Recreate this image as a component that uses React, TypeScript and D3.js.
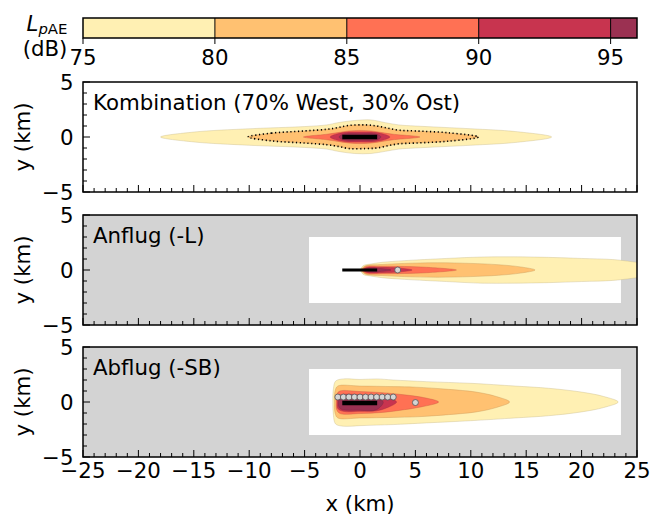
import React from 'react';
import * as d3 from 'd3';

// colour levels (dB)
const levels = [75, 80, 85, 90, 95, 96];
const levelColors = ['#fff0b3', '#ffc171', '#ff7154', '#c8344f', '#9b3152'];
const cbTicks = [75, 80, 85, 90, 95];

const xTicks = [-25, -20, -15, -10, -5, 0, 5, 10, 15, 20, 25];
const yTicks = [-5, 0, 5];

// contour outlines: [x km, upper y km, lower y km]
const kombContours = [
  [[-18, 0, 0], [-15, 0.45, -0.45], [-10, 0.75, -0.75], [-5, 0.95, -0.95], [-3, 1.1, -1.1], [-2, 1.3, -1.3], [-0.5, 1.5, -1.5], [1, 1.55, -1.5], [2.3, 1.3, -1.3], [3.5, 1.1, -1.1], [5, 1.0, -1.0], [10, 0.75, -0.75], [14, 0.5, -0.5], [17.3, 0, 0]],
  [[-10.1, 0, 0], [-8, 0.35, -0.35], [-5, 0.55, -0.55], [-3, 0.7, -0.7], [-2, 0.85, -0.85], [-1, 1.05, -1.05], [0.5, 1.1, -1.05], [1.5, 1.0, -1.0], [2.5, 0.8, -0.8], [3.5, 0.62, -0.62], [5, 0.55, -0.55], [8, 0.38, -0.38], [10.7, 0, 0]],
  [[-5.1, 0, 0], [-3, 0.25, -0.25], [-2, 0.4, -0.4], [-1, 0.55, -0.55], [0, 0.6, -0.6], [1, 0.55, -0.55], [2, 0.4, -0.4], [3, 0.25, -0.25], [5.4, 0, 0]],
  [[-2.7, 0, 0], [-2, 0.3, -0.3], [-1, 0.45, -0.45], [0, 0.45, -0.45], [1, 0.45, -0.45], [2, 0.3, -0.3], [2.7, 0, 0]],
  [[-1.9, 0, 0], [-1.5, 0.25, -0.25], [0, 0.3, -0.3], [1.5, 0.25, -0.25], [1.9, 0, 0]],
];

const anflugContours = [
  [[0.05, 0, 0], [0.3, 0.4, -0.4], [1, 0.55, -0.55], [2, 0.7, -0.7], [4, 0.85, -0.85], [7.8, 1.05, -1.05], [11, 1.18, -1.2], [13.8, 1.2, -1.2], [17, 1.15, -1.15], [20, 1.05, -1.05], [22.8, 0.95, -0.95], [24.6, 0.75, -0.75], [27, 0.4, -0.4], [28.5, 0, 0]],
  [[0.1, 0, 0], [0.5, 0.38, -0.38], [2, 0.5, -0.5], [4, 0.6, -0.6], [7, 0.66, -0.66], [10, 0.6, -0.6], [12.5, 0.48, -0.48], [14.5, 0.28, -0.28], [15.8, 0, 0]],
  [[0.2, 0, 0], [0.5, 0.3, -0.3], [2, 0.34, -0.34], [4, 0.32, -0.32], [6, 0.25, -0.25], [8.7, 0, 0]],
  [[0.3, 0, 0], [0.6, 0.22, -0.22], [2, 0.24, -0.24], [3.5, 0.18, -0.18], [4.7, 0, 0]],
  [[0.4, 0, 0], [0.8, 0.15, -0.15], [1.8, 0.13, -0.13], [2.8, 0, 0]],
];

const abflugContours = [
  [[-2.45, 0, 0], [-2.4, 1.2, -1.2], [-2.2, 1.9, -2.0], [-1.5, 2.1, -2.2], [0, 2.05, -2.15], [1.5, 2.1, -2.1], [3, 2.0, -2.05], [6, 1.85, -1.9], [10, 1.7, -1.7], [14, 1.45, -1.45], [17, 1.25, -1.25], [20, 0.9, -0.9], [22, 0.5, -0.5], [23.3, 0, 0]],
  [[-2.3, 0, 0], [-2.25, 1.0, -1.0], [-2.0, 1.45, -1.45], [0, 1.45, -1.45], [3, 1.4, -1.4], [5, 1.35, -1.35], [8, 1.15, -1.15], [10.5, 0.9, -0.9], [12.3, 0.5, -0.5], [13.5, 0, 0]],
  [[-2.15, 0, 0], [-2.1, 0.7, -0.7], [-1.8, 1.0, -1.05], [0, 0.95, -1.05], [2, 0.85, -0.95], [4, 0.65, -0.7], [5.5, 0.45, -0.45], [7.1, 0, 0]],
  [[-2.05, 0, -0.05], [-2.0, 0.5, -0.6], [-1.5, 0.7, -0.85], [0, 0.65, -0.85], [1.5, 0.6, -0.8], [2.5, 0.4, -0.5], [3.3, 0, -0.1]],
  [[-1.95, 0, -0.1], [-1.8, 0.3, -0.6], [0, 0.3, -0.75], [1.5, 0.25, -0.7], [2.1, 0, -0.3]],
];

// runway and measuring points
const runwayX = [-1.6, 1.55];
const abflugPointsX = [-2, -1.5, -1, -0.5, 0, 0.5, 1, 1.5, 2, 2.5, 3];
const abflugPointsY = [0.45, 0.45, 0.45, 0.45, 0.45, 0.45, 0.45, 0.45, 0.45, 0.45, 0.45];
const anflugPoint = [3.4, 0];
const abflugExtra = [5.0, -0.05];
const gridExtentX = [-4.6, 23.55];
const gridExtentY = [-3, 3];

const FONT = 'DejaVu Sans, sans-serif';
const FS = 21.3;

const x = d3.scaleLinear().domain([-25, 25]).range([83, 637]);
const panelTops = [82, 215, 347];
const PH = 110;
const cbX = d3.scaleLinear().domain([75, 96]).range([83, 637]);

const closedLine = d3.line().curve(d3.curveCatmullRomClosed.alpha(0.5));

function outline(c, y) {
  const upper = c.map(p => [x(p[0]), y(p[1])]);
  const lower = c.slice(1, -1).reverse().map(p => [x(p[0]), y(p[2])]);
  return closedLine(upper.concat(lower));
}

function Panel({ idx, title, contours, gray, children }) {
  const top = panelTops[idx];
  const y = d3.scaleLinear().domain([-5, 5]).range([top + PH, top]);
  const clipId = 'clip' + idx;
  const minor = d3.range(-25, 26, 1);
  const minorY = d3.range(-5, 6, 1);
  return (
    <g>
      <defs>
        <clipPath id={clipId}>
          <rect x={x(-25)} y={top} width={x(25) - x(-25)} height={PH} />
        </clipPath>
      </defs>
      <rect x={x(-25)} y={top} width={x(25) - x(-25)} height={PH} fill={gray ? '#d3d3d3' : '#fff'} />
      {gray && (
        <rect x={x(gridExtentX[0])} y={y(gridExtentY[1])} width={x(gridExtentX[1]) - x(gridExtentX[0])}
          height={y(gridExtentY[0]) - y(gridExtentY[1])} fill="#fff" />
      )}
      <g clipPath={`url(#${clipId})`}>
        {contours.map((c, i) => (
          <path key={i} d={outline(c, y)} fill={levelColors[i]}
            stroke={d3.color(levelColors[i]).darker(0.8).formatHex()} strokeOpacity={0.45} strokeWidth={0.8} />
        ))}
        {children(y)}
      </g>
      {/* ticks */}
      {minor.map(t => (
        <line key={'mx' + t} x1={x(t)} x2={x(t)} y1={top + PH} y2={top + PH - (t % 5 === 0 ? 7 : 4)} stroke="#000" strokeWidth={1} />
      ))}
      {minorY.map(t => (
        <line key={'my' + t} x1={x(-25)} x2={x(-25) + (t % 5 === 0 ? 7 : 4)} y1={y(t)} y2={y(t)} stroke="#000" strokeWidth={1} />
      ))}
      {yTicks.map(t => (
        <text key={'yl' + t} x={73.5} y={y(t)} dy="0.36em" textAnchor="end" fontSize={FS} fontFamily={FONT}>
          {t < 0 ? '\u2212' + Math.abs(t) : t}
        </text>
      ))}
      <text x={22} y={top + PH / 2} transform={`rotate(-90, 22, ${top + PH / 2})`} dy="0.36em" textAnchor="middle" fontSize={FS} fontFamily={FONT}>y (km)</text>
      <text x={93} y={top + 28} fontSize={FS} fontFamily={FONT}>{title}</text>
      <rect x={x(-25)} y={top} width={x(25) - x(-25)} height={PH} fill="none" stroke="#000" strokeWidth={1.5} />
    </g>
  );
}

const dot = (cx, cy, k) => (
  <circle key={k} cx={cx} cy={cy} r={3} fill="#d4d4d4" stroke="#555" strokeWidth={0.8} />
);

export default function App() {
  const bottom = panelTops[2] + PH;
  return (
    <svg width={650} height={516} style={{ position: 'absolute', left: 0, top: 0, background: '#fff' }}>
      {/* colour bar */}
      {levelColors.map((c, i) => (
        <rect key={i} x={cbX(levels[i])} y={18} width={cbX(levels[i + 1]) - cbX(levels[i])} height={20} fill={c} />
      ))}
      {levels.slice(1, -1).map(l => (
        <line key={l} x1={cbX(l)} x2={cbX(l)} y1={18} y2={38} stroke="#000" strokeWidth={1} />
      ))}
      <rect x={cbX(75)} y={18} width={cbX(96) - cbX(75)} height={20} fill="none" stroke="#000" strokeWidth={1.5} />
      {cbTicks.map(t => (
        <g key={t}>
          <line x1={cbX(t)} x2={cbX(t)} y1={38} y2={44} stroke="#000" strokeWidth={1} />
          <text x={cbX(t)} y={65} textAnchor="middle" fontSize={FS} fontFamily={FONT}>{t}</text>
        </g>
      ))}
      <text x={47} y={31} textAnchor="middle" fontSize={FS} fontFamily={FONT}>
        <tspan fontStyle="italic">L</tspan>
        <tspan fontSize={FS * 0.7} dy={3}><tspan fontStyle="italic">p</tspan>AE</tspan>
      </text>
      <text x={45} y={56} textAnchor="middle" fontSize={FS} fontFamily={FONT}>(dB)</text>

      <Panel idx={0} title="Kombination (70% West, 30% Ost)" contours={kombContours} gray={false}>
        {y => (
          <g>
            <path d={outline(kombContours[1], y)} fill="none" stroke="#000" strokeWidth={1.6} strokeDasharray="1.2 2.6" />
            <line x1={x(runwayX[0])} x2={x(runwayX[1])} y1={y(0)} y2={y(0)} stroke="#000" strokeWidth={4.5} />
          </g>
        )}
      </Panel>
      <Panel idx={1} title="Anflug (-L)" contours={anflugContours} gray={true}>
        {y => (
          <g>
            <line x1={x(runwayX[0])} x2={x(runwayX[1])} y1={y(0)} y2={y(0)} stroke="#000" strokeWidth={3} />
            {dot(x(anflugPoint[0]), y(anflugPoint[1]), 'a')}
          </g>
        )}
      </Panel>
      <Panel idx={2} title="Abflug (-SB)" contours={abflugContours} gray={true}>
        {y => (
          <g>
            <line x1={x(runwayX[0])} x2={x(runwayX[1])} y1={y(-0.1)} y2={y(-0.1)} stroke="#000" strokeWidth={4.5} />
            {abflugPointsX.map((px, i) => dot(x(px), y(abflugPointsY[i]), 'p' + i))}
            {dot(x(abflugExtra[0]), y(abflugExtra[1]), 'e')}
          </g>
        )}
      </Panel>

      {xTicks.map(t => (
        <text key={t} x={x(t)} y={bottom + 21} textAnchor="middle" fontSize={FS} fontFamily={FONT}>
          {t < 0 ? '\u2212' + Math.abs(t) : t}
        </text>
      ))}
      <text x={x(0)} y={bottom + 54} textAnchor="middle" fontSize={FS} fontFamily={FONT}>x (km)</text>
    </svg>
  );
}
